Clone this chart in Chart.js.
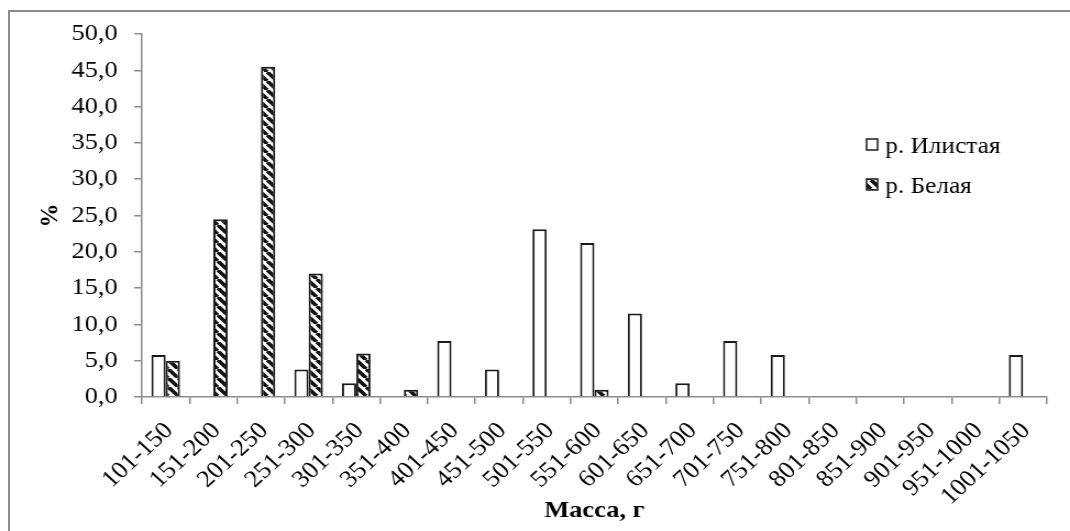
<!DOCTYPE html>
<html>
<head>
<meta charset="utf-8">
<script src="https://cdn.jsdelivr.net/npm/chart.js@4/dist/chart.umd.min.js"></script>
<style>
  html, body { margin: 0; padding: 0; background: #fff; }
  #wrap { position: relative; width: 1070px; height: 531px; overflow: hidden; }
  /* the chart is laid out on a slightly narrower canvas and widened to the page */
  #wrap canvas {
    position: absolute; left: 0; top: 0;
    transform: scaleX(1.0997); transform-origin: 0 0;
  }
  #frame {
    position: absolute; left: 8px; top: 10px; width: 1200px; height: 700px;
    border-left: 2px solid #8c8c8c; border-top: 2px solid #8c8c8c;
    pointer-events: none;
  }
</style>
</head>
<body>
<div id="wrap">
  <canvas id="chart" width="973" height="531"></canvas>
  <div id="frame"></div>
</div>
<script>
// Mass classes, g
const categories = [
  '101-150', '151-200', '201-250', '251-300', '301-350', '351-400',
  '401-450', '451-500', '501-550', '551-600', '601-650', '651-700',
  '701-750', '751-800', '801-850', '851-900', '901-950', '951-1000',
  '1001-1050'
];

const seriesNames = ['р. Илистая', 'р. Белая'];

// Share of fish in each mass class, %
const ilistaya = [5.8, 0, 0, 3.8, 1.9, 0, 7.7, 3.8, 23.1, 21.2, 11.5, 1.9, 7.7, 5.8, 0, 0, 0, 0, 5.8];
const belaya   = [5.0, 24.5, 45.5, 17.0, 6.0, 1.0, 0, 0, 0, 1.0, 0, 0, 0, 0, 0, 0, 0, 0, 0];

const yAxisTitle = '%';
const xAxisTitle = 'Масса, г';

const FONT = '"Liberation Serif", "Times New Roman", serif';
const AXIS_GREY = '#8c8c8c';

const canvas = document.getElementById('chart');
const ctx = canvas.getContext('2d');

// Wide downward diagonal hatch
function makeHatch() {
  const s = 9;
  const tile = document.createElement('canvas');
  tile.width = s; tile.height = s;
  const g = tile.getContext('2d');
  g.fillStyle = '#fff';
  g.fillRect(0, 0, s, s);
  g.strokeStyle = '#111';
  g.lineWidth = 3.6;
  for (const o of [-s, 0, s]) {
    g.beginPath();
    g.moveTo(o, 0);
    g.lineTo(o + s, s);
    g.stroke();
  }
  return ctx.createPattern(tile, 'repeat');
}

// Legend drawn inside the plot, to the right
const cornerLegend = {
  id: 'cornerLegend',
  afterDraw(chart, args, opts) {
    const c = chart.ctx;
    c.save();
    c.font = opts.font;
    c.textAlign = 'left';
    c.textBaseline = 'alphabetic';
    chart.data.datasets.forEach((ds, i) => {
      const baseY = opts.y + i * opts.gap;
      const bx = opts.x, by = baseY - opts.box - 3;
      c.fillStyle = ds.backgroundColor;
      c.fillRect(bx, by, opts.boxW, opts.box);
      c.strokeStyle = ds.borderColor;
      c.lineWidth = 1.5;
      c.strokeRect(bx, by, opts.boxW, opts.box);
      c.fillStyle = '#000';
      c.fillText(ds.label, bx + opts.boxW + 7, baseY);
    });
    c.restore();
  }
};

new Chart(ctx, {
  type: 'bar',
  data: {
    labels: categories,
    datasets: [
      {
        label: seriesNames[0],
        data: ilistaya,
        backgroundColor: '#ffffff',
        borderColor: '#1a1a1a',
        borderWidth: 2,
        categoryPercentage: 0.6,
        barPercentage: 1.0
      },
      {
        label: seriesNames[1],
        data: belaya,
        backgroundColor: makeHatch(),
        borderColor: '#1a1a1a',
        borderWidth: 2,
        categoryPercentage: 0.6,
        barPercentage: 1.0
      }
    ]
  },
  options: {
    responsive: false,
    animation: false,
    devicePixelRatio: 1,
    layout: { padding: { top: 34, right: 21, left: 0, bottom: 0 } },
    plugins: {
      legend: { display: false },
      tooltip: { enabled: false },
      cornerLegend: { x: 788, y: 153, gap: 40, box: 11, boxW: 10, font: '23px ' + FONT }
    },
    scales: {
      x: {
        offset: true,
        grid: {
          offset: true,
          drawOnChartArea: false,
          drawTicks: true,
          tickLength: 7,
          color: AXIS_GREY,
          lineWidth: 1.5
        },
        border: { display: true, color: AXIS_GREY, width: 1.5 },
        ticks: {
          autoSkip: false,
          minRotation: 45,
          maxRotation: 45,
          padding: 13,
          labelOffset: 3,
          color: '#000',
          font: { family: FONT, size: 24 }
        },
        title: {
          display: true,
          text: xAxisTitle,
          color: '#000',
          font: { family: FONT, size: 24, weight: 'bold' },
          padding: { top: 0, bottom: 6 }
        },
        afterFit(scale) { scale.height = 134; }
      },
      y: {
        min: 0,
        max: 50,
        grid: {
          drawOnChartArea: false,
          drawTicks: true,
          tickLength: 7,
          color: AXIS_GREY,
          lineWidth: 1.5
        },
        border: { display: true, color: AXIS_GREY, width: 1.5 },
        ticks: {
          stepSize: 5,
          padding: 15,
          color: '#000',
          font: { family: FONT, size: 24 },
          callback: (v) => Number(v).toFixed(1).replace('.', ',')
        },
        title: {
          display: true,
          text: yAxisTitle,
          color: '#000',
          font: { family: FONT, size: 24, weight: 'bold' },
          padding: { top: 31 }
        },
        afterFit(scale) { scale.width = 129; }
      }
    }
  },
  plugins: [cornerLegend]
});
</script>
</body>
</html>
